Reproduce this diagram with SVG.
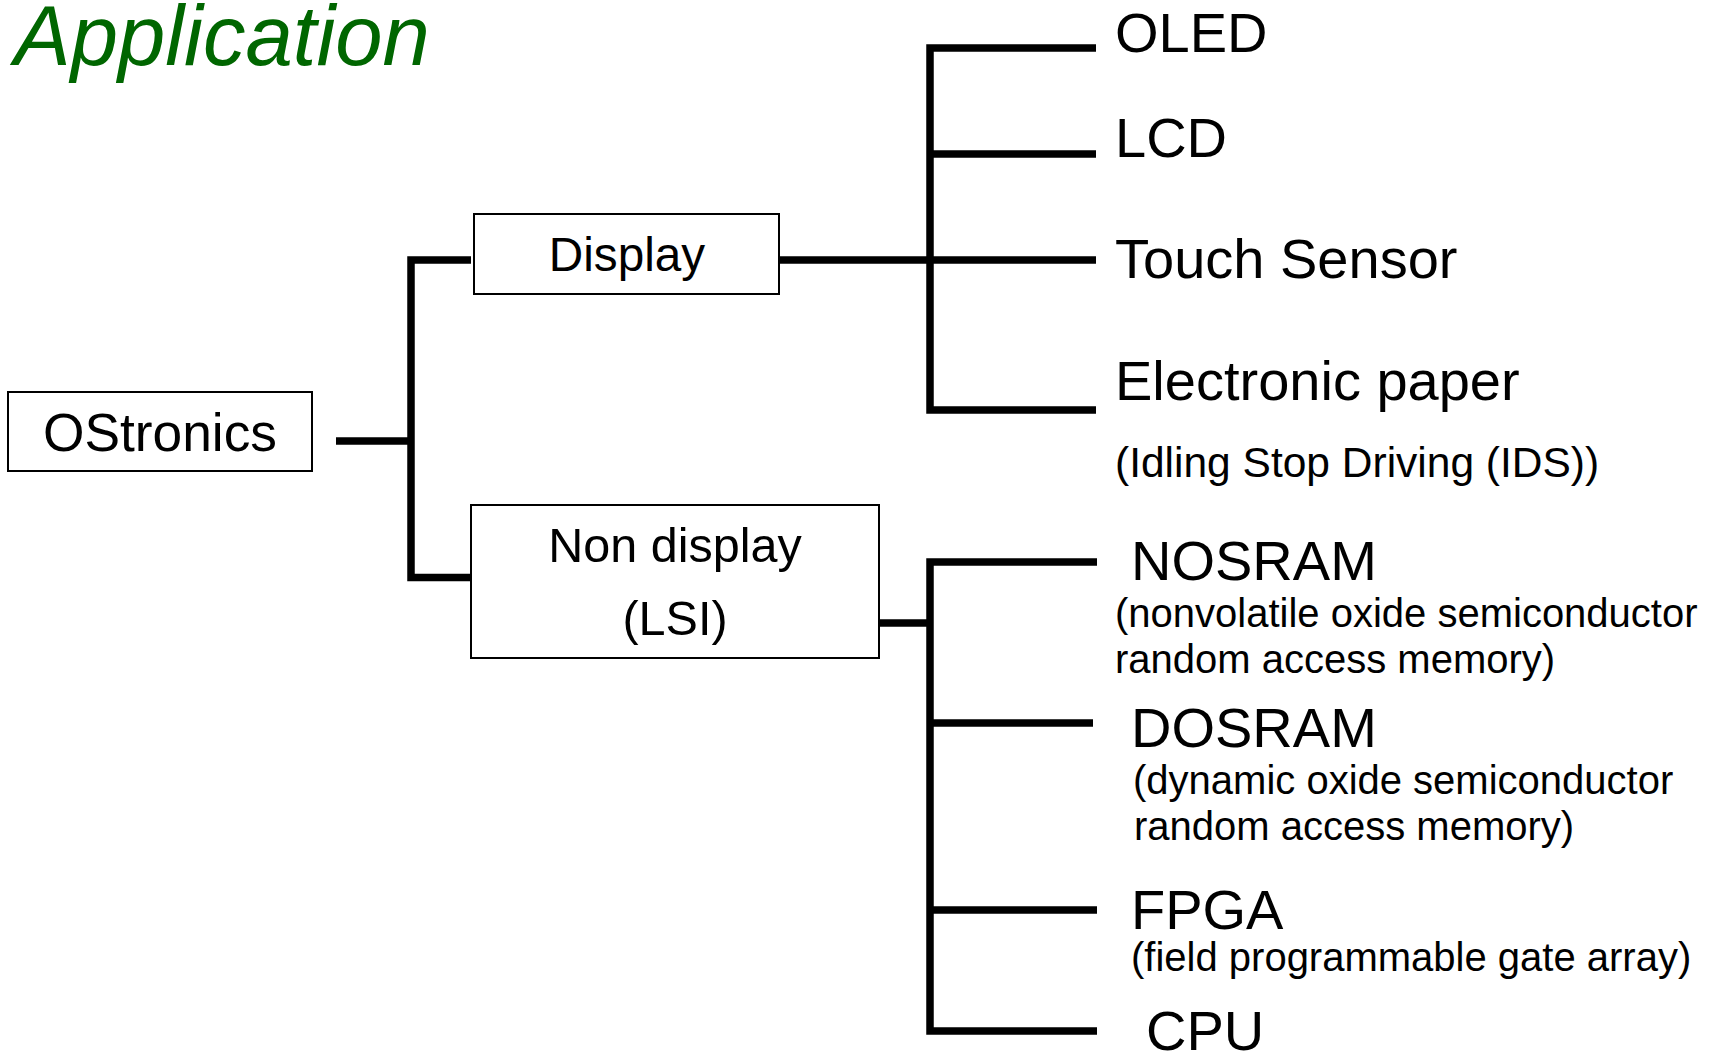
<svg xmlns="http://www.w3.org/2000/svg" width="1713" height="1051" viewBox="0 0 1713 1051">
<style>
  text { font-family: "Liberation Sans", Arial, sans-serif; fill: #000; }
  .box { fill: #fff; stroke: #000; stroke-width: 2; }
  .conn { fill: none; stroke: #000; stroke-width: 7.5; stroke-linecap: butt; stroke-linejoin: miter; }
  .big { font-size: 56px; }
  .sub { font-size: 40px; }
  .mid { text-anchor: middle; }
</style>
<rect width="1713" height="1051" fill="#fff"/>
<text x="14" y="65" style="font-size:85px;font-style:italic;fill:#006600">Application</text>

<g id="connectors">
  <line class="conn" x1="336" y1="441" x2="411" y2="441"/>
  <polyline class="conn" points="471,260 411,260 411,577.5 471,577.5"/>
  <line class="conn" x1="779" y1="260" x2="1096" y2="260"/>
  <polyline class="conn" points="1096,48 930,48 930,410 1096,410"/>
  <line class="conn" x1="930" y1="154" x2="1096" y2="154"/>
  <line class="conn" x1="879" y1="623" x2="930" y2="623"/>
  <polyline class="conn" points="1097,562 930,562 930,1031 1097,1031"/>
  <line class="conn" x1="930" y1="723" x2="1093" y2="723"/>
  <line class="conn" x1="930" y1="910" x2="1097" y2="910"/>
</g>

<g id="ostronics">
  <rect class="box" x="8" y="392" width="304" height="79"/>
  <text class="mid" x="160" y="451" style="font-size:53.3px">OStronics</text>
</g>
<g id="display">
  <rect class="box" x="474" y="214" width="305" height="80"/>
  <text class="mid" x="627" y="271" style="font-size:47.7px">Display</text>
</g>
<g id="nondisplay">
  <rect class="box" x="471" y="505" width="408" height="153"/>
  <text class="mid" x="675" y="562" style="font-size:48.5px">Non display</text>
  <text class="mid" x="675" y="635" style="font-size:48.5px">(LSI)</text>
</g>

<g id="oled"><text class="big" x="1115" y="52">OLED</text></g>
<g id="lcd"><text class="big" x="1115" y="157">LCD</text></g>
<g id="touch"><text class="big" x="1115" y="278">Touch Sensor</text></g>
<g id="epaper">
  <text class="big" x="1115" y="399.5">Electronic paper</text>
  <text x="1115" y="477" style="font-size:42.5px">(Idling Stop Driving (IDS))</text>
</g>
<g id="nosram">
  <text class="big" x="1131" y="580">NOSRAM</text>
  <text class="sub" x="1115" y="627">(nonvolatile oxide semiconductor</text>
  <text class="sub" x="1115" y="673">random access memory)</text>
</g>
<g id="dosram">
  <text class="big" x="1131" y="747">DOSRAM</text>
  <text class="sub" x="1133" y="794">(dynamic oxide semiconductor</text>
  <text class="sub" x="1134" y="840">random access memory)</text>
</g>
<g id="fpga">
  <text class="big" x="1131" y="929">FPGA</text>
  <text class="sub" x="1131" y="971">(field programmable gate array)</text>
</g>
<g id="cpu"><text class="big" x="1146" y="1050">CPU</text></g>
</svg>
